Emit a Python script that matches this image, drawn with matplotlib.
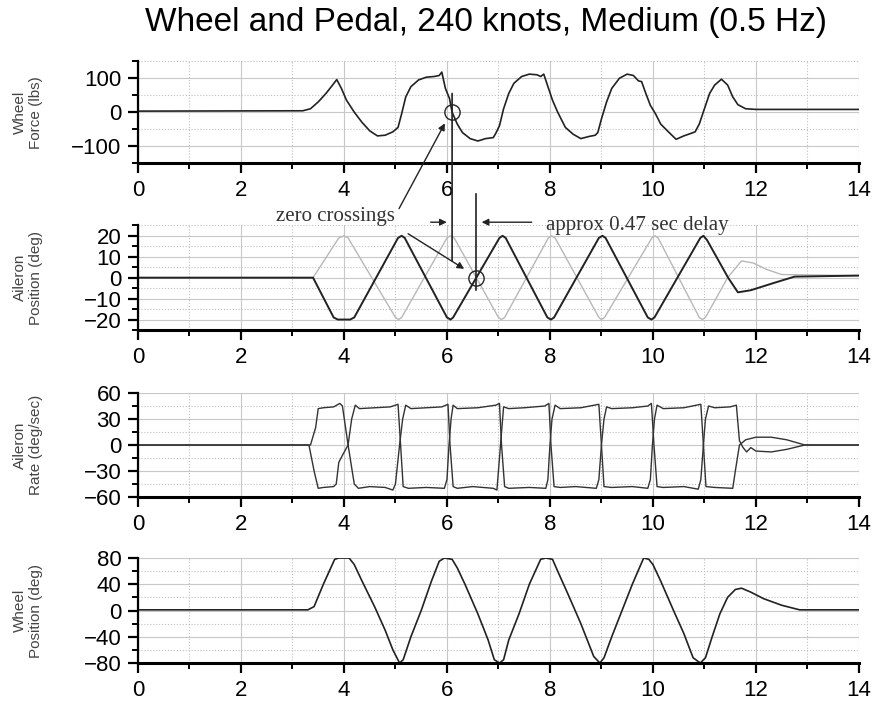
import matplotlib
matplotlib.use("Agg")
import matplotlib.pyplot as plt
from matplotlib.patches import ConnectionPatch
from matplotlib.ticker import MultipleLocator

plt.rcParams['font.family'] = ['Liberation Sans', 'DejaVu Sans']

title = "Wheel and Pedal, 240 knots, Medium (0.5 Hz)"

# wheel force (lbs)
force_t = [0, 3.2, 3.35, 3.5, 3.65, 3.78, 3.86, 3.95, 4.05, 4.2, 4.35, 4.5, 4.65, 4.8,
           4.95, 5.05, 5.12, 5.2, 5.3, 5.45, 5.6, 5.75, 5.85, 5.9, 5.97, 6.05, 6.1, 6.2,
           6.3, 6.45, 6.6, 6.75, 6.9, 6.95, 7.02, 7.1, 7.2, 7.3, 7.45, 7.6, 7.75, 7.82,
           7.88, 7.95, 8.05, 8.15, 8.3, 8.45, 8.6, 8.75, 8.88, 8.93, 9.0, 9.1, 9.2, 9.35,
           9.5, 9.62, 9.72, 9.78, 9.85, 9.95, 10.05, 10.15, 10.3, 10.45, 10.6, 10.75,
           10.82, 10.9, 11.0, 11.1, 11.2, 11.33, 11.45, 11.55, 11.65, 11.8, 12.0, 14]
force_v = [3, 4, 10, 30, 55, 80, 96, 70, 35, 0, -30, -55, -70, -68,
           -58, -45, -5, 45, 75, 95, 103, 105, 108, 118, 70, 40, 0, -35,
           -60, -78, -85, -78, -75, -62, -40, 10, 55, 85, 105, 112, 110, 105,
           112, 80, 35, 0, -45, -65, -78, -72, -68, -60, -20, 30, 70, 100,
           112, 108, 92, 90, 60, 20, -5, -35, -58, -80, -70, -62,
           -58, -35, 10, 55, 80, 97, 80, 45, 22, 10, 8, 8]

# aileron position (deg), measured and commanded
ail_t = [0, 3.4, 3.8, 3.88, 4.12, 4.2, 5.05, 5.12, 5.18, 6.0, 6.07, 6.12, 7.02, 7.08,
         7.14, 7.95, 8.02, 8.08, 8.95, 9.02, 9.08, 9.9, 9.97, 10.03, 10.92, 10.98,
         11.05, 11.46, 11.65, 11.9, 12.35, 12.75, 14]
ail_v = [0, 0, -19, -20, -20, -19, 19, 20, 19, -19, -20, -19, 19, 20,
         19, -19, -20, -19, 19, 20, 19, -19, -20, -19, 19, 20,
         18, 0, -7, -6, -2.5, 0.5, 1]

cmd_t = [0, 3.4, 3.9, 4.0, 4.08, 5.0, 5.06, 5.12, 6.0, 6.07, 6.14, 7.0, 7.06, 7.12,
         7.97, 8.03, 8.1, 8.95, 9.0, 9.06, 9.98, 10.04, 10.1, 10.9, 10.96, 11.02,
         11.45, 11.72, 11.95, 12.2, 12.5, 14]
cmd_v = [0, 0, 19, 20, 19, -19, -20, -19, 19, 20, 19, -19, -20, -19,
         19, 20, 19, -19, -20, -19, 19, 20, 19, -19, -20, -19,
         0, 8, 7, 4, 1.5, 1]

# aileron rate (deg/sec)
rate_a_t = [0, 3.35, 3.45, 3.5, 3.6, 3.8, 3.92, 3.97, 4.08, 4.2, 4.28, 4.5, 4.8, 4.95,
            5.0, 5.08, 5.14, 5.2, 5.3, 5.6, 5.9, 6.02, 6.06, 6.12, 6.2, 6.5, 6.9, 6.97,
            7.0, 7.04, 7.1, 7.2, 7.5, 7.9, 7.98, 8.02, 8.08, 8.2, 8.5, 8.9, 8.95, 9.0,
            9.05, 9.1, 9.2, 9.6, 9.9, 9.97, 10.02, 10.08, 10.2, 10.6, 10.88, 10.93,
            10.98, 11.02, 11.08, 11.2, 11.5, 11.62, 11.68, 11.75, 11.82, 11.9, 12.0,
            12.3, 12.6, 12.95, 14]
rate_a_v = [0, 0, 20, 42, 43, 44, 48, 45, 0, -45, -50, -48, -49, -52,
            -45, 0, 30, 46, 42, 43, 44, 47, 0, -48, -50, -48, -50, -52,
            -30, 0, 44, 42, 43, 45, 48, 0, -48, -49, -48, -50, -40, 0,
            30, 44, 42, 43, 45, 48, 0, -48, -49, -48, -51, -40,
            0, 30, 45, 43, 44, 46, 5, -3, -8, -3, -7,
            -8, -5, 0, 0]

rate_b_t = [0, 3.32, 3.42, 3.5, 3.6, 3.8, 3.85, 3.9, 3.97, 4.08, 4.15, 4.22, 4.3, 4.6,
            4.9, 5.05, 5.1, 5.15, 5.25, 5.6, 5.95, 6.0, 6.04, 6.08, 6.12, 6.2, 6.6,
            6.95, 7.02, 7.06, 7.12, 7.2, 7.6, 7.92, 7.96, 8.0, 8.04, 8.1, 8.2, 8.6,
            8.95, 9.0, 9.05, 9.2, 9.6, 9.9, 9.95, 9.99, 10.03, 10.08, 10.2, 10.6,
            10.93, 10.98, 11.03, 11.2, 11.55, 11.6, 11.68, 11.8, 12.0, 12.3, 12.6,
            12.95, 14]
rate_b_v = [0, 0, -30, -50, -49, -48, -45, -20, -12, 0, 30, 46, 42, 43,
            44, 47, 0, -48, -50, -49, -50, -40, 0, 30, 46, 42, 43,
            46, 48, 0, -48, -50, -49, -50, -40, 0, 30, 46, 42, 43,
            47, 0, -48, -49, -48, -50, -40, 0, 30, 46, 42, 43,
            47, 0, -48, -49, -50, -30, 0, 6, 9, 9, 6,
            0, 0]

# wheel position (deg)
wpos_t = [0, 3.3, 3.42, 3.6, 3.82, 3.9, 4.1, 4.2, 4.35, 4.6, 4.8, 4.95, 5.08, 5.15,
          5.3, 5.5, 5.7, 5.85, 5.95, 6.1, 6.2, 6.35, 6.6, 6.8, 6.92, 7.02, 7.1, 7.2,
          7.4, 7.6, 7.82, 7.92, 8.05, 8.15, 8.35, 8.6, 8.85, 8.97, 9.05, 9.2, 9.4,
          9.6, 9.82, 9.92, 10.0, 10.15, 10.4, 10.6, 10.78, 10.92, 11.02, 11.15, 11.3,
          11.45, 11.6, 11.72, 11.9, 12.15, 12.5, 12.85, 14]
wpos_v = [1, 1, 6, 40, 78, 80, 80, 70, 45, 5, -30, -60, -80, -75,
          -40, 0, 45, 75, 80, 78, 65, 40, -5, -45, -75, -80, -75, -45,
          -5, 40, 78, 80, 78, 60, 25, -20, -70, -80, -72, -40, 0,
          40, 80, 78, 70, 45, 0, -35, -72, -80, -72, -40, -5,
          20, 32, 34, 28, 18, 8, 1, 1]

t_force_zero = 6.1
t_ail_zero = 6.56

panels = [
    ("Wheel\nForce (lbs)", (-150, 150), 100, 50),
    ("Aileron\nPosition (deg)", (-25, 25), 10, 5),
    ("Aileron\nRate (deg/sec)", (-60, 60), 30, 15),
    ("Wheel\nPosition (deg)", (-80, 80), 40, 20),
]
bottoms = [0.771, 0.5365, 0.302, 0.0688]
heights = [0.143, 0.147, 0.146, 0.1475]

fig = plt.figure(figsize=(8.76, 7.12), dpi=100)
axes = []
for (ylab, ylim, major, minor), b, h in zip(panels, bottoms, heights):
    ax = fig.add_axes([0.1575, b, 0.823, h])
    ax.set_xlim(0, 14)
    ax.set_ylim(*ylim)
    ax.xaxis.set_major_locator(MultipleLocator(2))
    ax.xaxis.set_minor_locator(MultipleLocator(1))
    ax.yaxis.set_major_locator(MultipleLocator(major))
    ax.yaxis.set_minor_locator(MultipleLocator(minor))
    ax.grid(which='major', color='#c8c8c8', lw=0.8, ls='-')
    ax.grid(which='minor', color='#c0c0c0', lw=0.8, ls=':')
    ax.set_axisbelow(True)
    for s in ['top', 'right']:
        ax.spines[s].set_visible(False)
    ax.spines['left'].set_linewidth(1.6)
    ax.spines['bottom'].set_linewidth(2.2)
    ax.tick_params(which='major', direction='out', length=7, width=1.6,
                   labelsize=16, pad=5)
    ax.tick_params(which='minor', direction='out', length=4.5, width=1.4)
    ax.set_yticks(list(range(ylim[0] if ylim[0] % major == 0 else ylim[0] + minor,
                             ylim[1] + 1, major)))
    fig.text(0.032, b + h / 2, ylab, rotation=90, ha='center', va='center',
             fontsize=11, color='#444444', multialignment='center')
    axes.append(ax)

ax1, ax2, ax3, ax4 = axes
ax1.plot(force_t, force_v, color='#222222', lw=1.2)
ax2.plot(cmd_t, cmd_v, color='#b8b8b8', lw=1.0)
ax2.plot(ail_t, ail_v, color='#222222', lw=1.4)
ax3.plot(rate_a_t, rate_a_v, color='#333333', lw=1.0)
ax3.plot(rate_b_t, rate_b_v, color='#333333', lw=1.0)
ax4.plot(wpos_t, wpos_v, color='#222222', lw=1.2)

fig.text(0.555, 0.969, title, ha='center', va='center', fontsize=24)

# zero crossing annotation
serif = ['Liberation Serif', 'DejaVu Serif']
ax1.plot(t_force_zero, 0, 'o', mfc='none', mec='#222222', ms=11, mew=1.0)
ax2.plot(t_ail_zero, 0, 'o', mfc='none', mec='#222222', ms=11, mew=1.0, clip_on=False)
fig.add_artist(ConnectionPatch(xyA=(t_force_zero, 55), coordsA=ax1.transData,
                               xyB=(t_force_zero, 8), coordsB=ax2.transData,
                               color='#222222', lw=1.2))
ax2.plot([t_ail_zero, t_ail_zero], [40, -6], color='#222222', lw=1.2, clip_on=False)
fig.add_artist(ConnectionPatch(xyA=(5.07, 33), coordsA=ax2.transData,
                               xyB=(5.96, -33), coordsB=ax1.transData,
                               arrowstyle='-|>', mutation_scale=10,
                               color='#222222', lw=1.0))
ax2.annotate('', xy=(6.38, 3.5), xytext=(5.2, 21.7),
             arrowprops=dict(arrowstyle='-|>', mutation_scale=10, color='#222222', lw=1.0),
             annotation_clip=False)
ax2.annotate('', xy=(t_force_zero - 0.05, 26.5), xytext=(5.63, 26.5),
             arrowprops=dict(arrowstyle='-|>', mutation_scale=10, color='#222222', lw=1.0),
             annotation_clip=False)
ax2.annotate('', xy=(t_ail_zero + 0.06, 26.5), xytext=(7.7, 26.5),
             arrowprops=dict(arrowstyle='-|>', mutation_scale=10, color='#222222', lw=1.0),
             annotation_clip=False)
ax2.text(2.68, 29.4, 'zero crossings', family=serif, fontsize=15, ha='left',
         va='center', color='#333333', clip_on=False)
ax2.text(7.92, 25, 'approx 0.47 sec delay', family=serif, fontsize=15, ha='left',
         va='center', color='#333333', clip_on=False)

fig.savefig('out.png', dpi=100)
